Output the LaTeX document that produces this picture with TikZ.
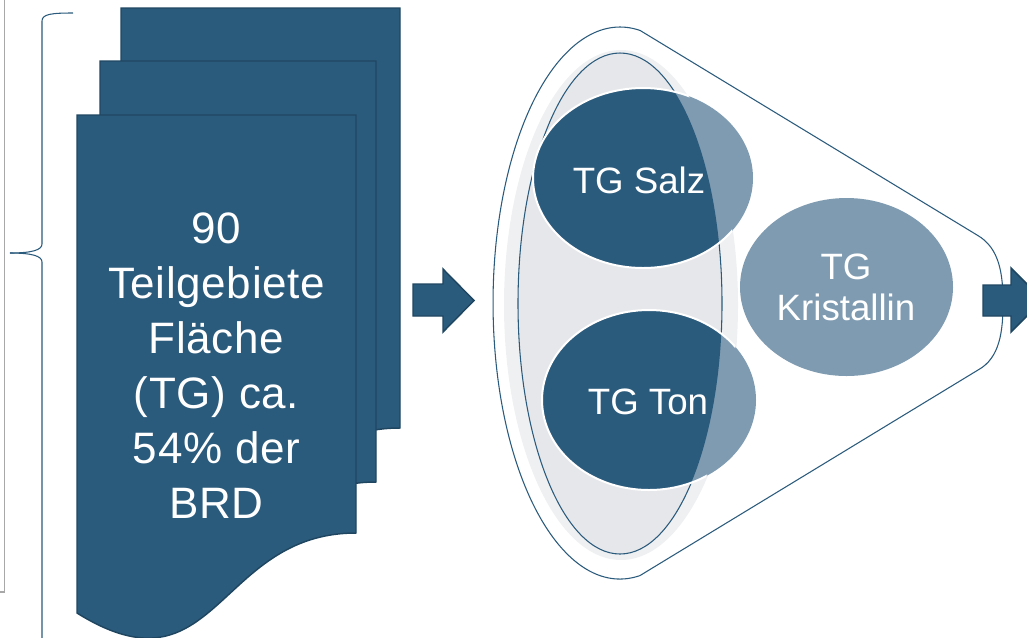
\documentclass[tikz,border=0pt]{standalone}
\usepackage{fontspec}
\setmainfont{Liberation Sans}
\definecolor{dblue}{HTML}{2B5B7C}
\definecolor{lblue}{HTML}{7F9BB1}
\definecolor{bord}{HTML}{1F4661}
\definecolor{gfill}{HTML}{E6E7EA}
\definecolor{ghalo}{HTML}{EFF0F2}
\definecolor{frame}{HTML}{A8A8A8}
\begin{document}
\begin{tikzpicture}[x=0.75pt,y=-0.75pt,
  docshape/.style={fill=dblue,draw=bord,line width=1.1pt},
  blockarrow/.style={fill=dblue,draw=bord,line width=1.1pt,line join=miter},
  outline/.style={draw=dblue,line width=0.8pt},
  doctext/.style={text=white,align=center,font=\fontsize{33}{41.25}\selectfont\addfontfeature{LetterSpace=1.5}},
  circtext/.style={text=white,align=center,font=\fontsize{27.5}{30.75}\selectfont},
  ring/.style={draw=white,line width=1.5pt}]
\useasboundingbox (0,0) rectangle (1027,637);
% slide frame remnant
\draw[frame,line width=0.8pt] (4.5,0) -- (4.5,592) -- (0,592);
% brace
\draw[dblue,line width=0.8pt] (73,13) .. controls (52,13) and (42,14) .. (42,21) -- (42,244) .. controls (42,250) and (32,253) .. (10,253);
\draw[dblue,line width=0.8pt] (10,253) .. controls (32,253) and (42,256) .. (42,262) -- (42,640);
% stacked documents
\draw[docshape] (121,8) -- (400,8) -- (400,428) .. controls (260.5,428) and (260.5,595) .. (121,508) -- cycle;
\draw[docshape] (100,61) -- (376,61) -- (376,482) .. controls (238,482) and (238,649) .. (100,562) -- cycle;
\draw[docshape] (77,115) -- (356,115) -- (356,533) .. controls (216.5,533) and (216.5,700) .. (77,613) -- cycle;
\node[doctext] (doc) at (216.5,366) {90\\Teilgebiete\\Fläche\\(TG) ca.\\54\% der\\BRD};
% arrow 1
\draw[blockarrow] (413,284) -- (443,284) -- (443,269) -- (474,300.5) -- (443,332) -- (443,316) -- (413,316) -- cycle;
% funnel outline
\draw[outline] (640,30.4) -- (977,235) .. controls (1000,248) and (1003,275) .. (1003,303) .. controls (1003,331) and (1000,358) .. (978,370) -- (639.9,575.6) arc[start angle=81,end angle=279,x radius=127,y radius=276] -- cycle;
% gray ellipses
\fill[ghalo] (621,305) ellipse[x radius=117,y radius=255];
\filldraw[fill=gfill,draw=dblue,line width=0.8pt] (620,303.5) ellipse[x radius=102,y radius=250.5];
% circles (light parts)
\fill[lblue] (643,178) ellipse[x radius=110,y radius=90];
\fill[lblue] (649,400) ellipse[x radius=107,y radius=90];
\begin{scope}
\clip (620,303.5) ellipse[x radius=102,y radius=250.5];
\fill[dblue] (643,178) ellipse[x radius=110,y radius=90];
\fill[dblue] (649,400) ellipse[x radius=107,y radius=90];
\end{scope}
\begin{scope}
\clip (620,303.5) ellipse[x radius=117,y radius=256];
\draw[ring] (643,178) ellipse[x radius=110,y radius=90];
\draw[ring] (649,400) ellipse[x radius=107,y radius=90];
\end{scope}
\fill[lblue] (846.5,287) ellipse[x radius=106.5,y radius=89];
\node[circtext] (salz) at (639,180) {TG Salz};
\node[circtext] (ton) at (648,402) {TG Ton};
\node[circtext] (kris) at (846,287) {TG\\Kristallin};
% arrow 2
\draw[blockarrow] (983,285) -- (1011,285) -- (1011,268) -- (1043,300) -- (1011,332) -- (1011,316) -- (983,316) -- cycle;
\end{tikzpicture}
\end{document}
